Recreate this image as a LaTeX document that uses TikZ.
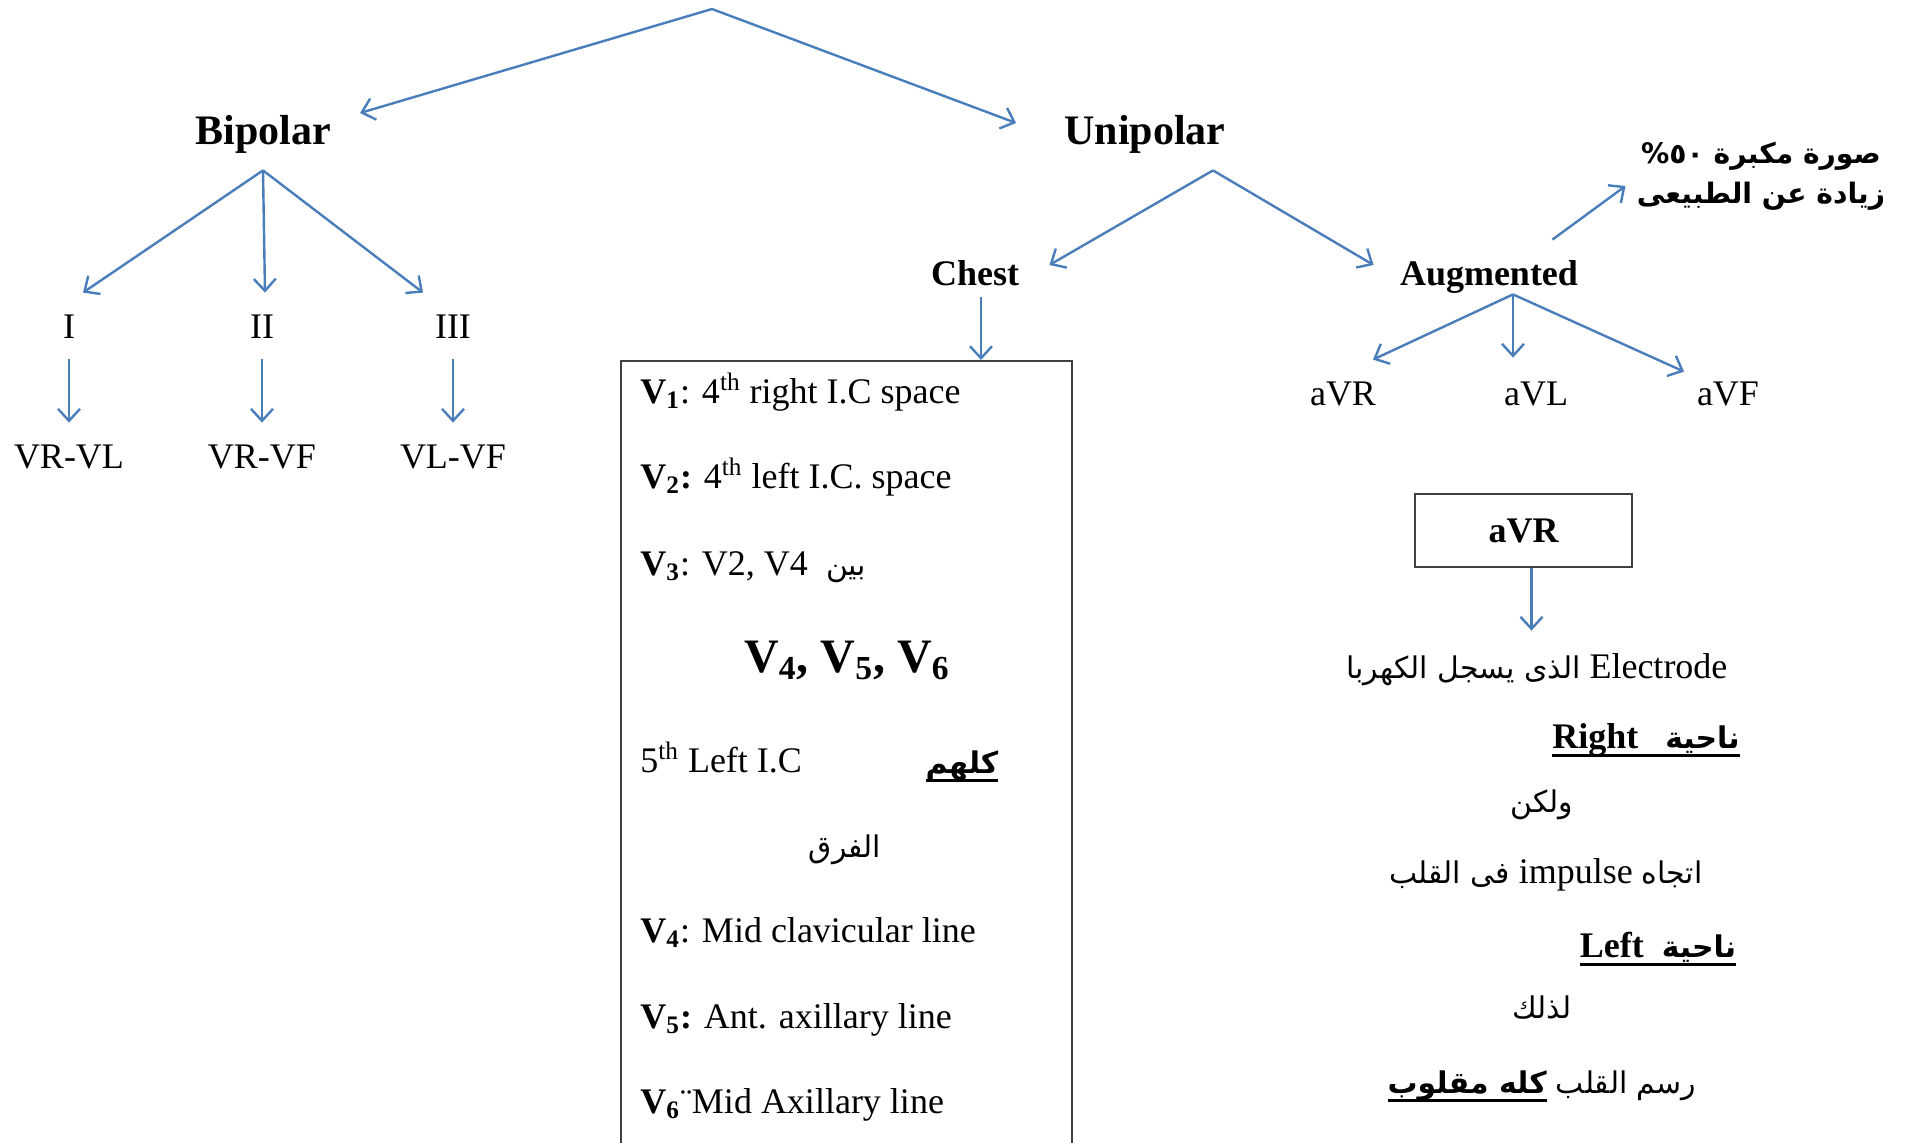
\documentclass[tikz,border=0pt]{standalone}
\usepackage{fontspec}
\setmainfont{Liberation Serif}
\newfontfamily\arabicfont[Script=Arabic,Scale=0.83]{DejaVu Sans}
\TeXXeTstate=1
\usetikzlibrary{arrows.meta}
\definecolor{leadblue}{RGB}{74,126,187}
\definecolor{boxgray}{RGB}{64,64,64}
\newcommand{\leadsize}{\fontsize{18}{22}\selectfont}
\newcommand{\thickul}[1]{\hbox{\setbox0=\hbox{#1}\rlap{\copy0}\rule[-4.5pt]{\wd0}{1.5pt}}}

\begin{document}
\begin{tikzpicture}[x=0.5pt, y=-0.5pt,
    >={Straight Barb[length=6pt,width=11pt]},
    linkarrow/.style={->, draw=leadblue, line width=1.2pt},
    groupname/.style={inner xsep=0pt, inner ysep=12pt, text height=15pt, text depth=1pt, font=\fontsize{21}{25}\selectfont\bfseries},
    leadname/.style={inner xsep=0pt, inner ysep=9.5pt, text height=13pt, text depth=1pt, font=\leadsize},
    boxtext/.style={anchor=base west, inner sep=0pt, font=\leadsize},
    avrtext/.style={anchor=base, inner sep=0pt, font=\leadsize}]

    % Page frame
    \useasboundingbox (0,0) rectangle (1908,1142);

    % Top split
    \coordinate (top) at (712,9);
    \node[groupname] (bip) at (263,130) {Bipolar};
    \node[groupname] (uni) at (1145,130) {Unipolar};
    \draw[linkarrow] (top) -- ([shift={(29,-17)}]bip.east);
    \draw[linkarrow] (top) -- ([shift={(-48,-7)}]uni.west);

    % Bipolar leads
    \node[leadname] (l1) at (69,326) {I};
    \node[leadname] (l2) at (262,326) {II};
    \node[leadname] (l3) at (453,326) {III};
    \node[leadname] (d1) at (69,456) {VR-VL};
    \node[leadname] (d2) at (262,456) {VR-VF};
    \node[leadname] (d3) at (453,456) {VL-VF};
    \draw[linkarrow] (bip.south) -- ([shift={(14,0)}]l1.north);
    \draw[linkarrow] (bip.south) -- ([shift={(3,0)}]l2.north);
    \draw[linkarrow] (bip.south) -- ([shift={(-30,0)}]l3.north);
    \draw[linkarrow] (l1.south) -- (d1.north);
    \draw[linkarrow] (l2.south) -- (d2.north);
    \draw[linkarrow] (l3.south) -- (d3.north);

    % Unipolar leads
    \node[leadname, font=\leadsize\bfseries] (chest) at (975,273) {Chest};
    \node[leadname, font=\leadsize\bfseries] (aug) at (1489,273) {Augmented};
    \draw[linkarrow] ([shift={(68,0)}]uni.south) -- ([shift={(30,-8)}]chest.east);
    \draw[linkarrow] ([shift={(68,0)}]uni.south) -- ([shift={(-26,-8)}]aug.west);

    % Augmented leads
    \node[leadname] (avr) at (1343,393) {aVR};
    \node[leadname] (avl) at (1536,393) {aVL};
    \node[leadname] (avf) at (1728,393) {aVF};
    \draw[linkarrow] ([shift={(24,-12)}]aug.south) -- ([shift={(30,0)}]avr.north);
    \draw[linkarrow] ([shift={(24,-12)}]aug.south) -- ([shift={(-23,-2)}]avl.north);
    \draw[linkarrow] ([shift={(24,-12)}]aug.south) -- ([shift={(-44,12)}]avf.north);

    % Note on the augmented leads
    \node[inner sep=0pt, align=center, font=\arabicfont\bfseries\fontsize{17}{20}\selectfont] (note) at (1761,176)
        {\beginR صورة مكبرة \beginL٥٠\endL\%\endR\\\beginR زيادة عن الطبيعى\endR};
    \draw[linkarrow] ([shift={(-26,0)}]aug.north east) -- ([shift={(-11,10)}]note.west);

    % Chest leads box
    \node[draw=boxgray, line width=0.8pt, inner sep=0pt, anchor=north west,
        minimum width=225.5pt, minimum height=420pt] (chestbox) at (620,360) {};
    \draw[linkarrow] ([shift={(6,-9)}]chest.south) -- ([shift={(6,0)}]chest.south |- chestbox.north);
    \node[boxtext] (v1) at (640,403) {\textbf{V}\textsubscript{\textbf{1}}: 4\textsuperscript{th} right I.C space};
    \node[boxtext] (v2) at (640,488) {\textbf{V\textsubscript{2}:} 4\textsuperscript{th} left I.C. space};
    \node[boxtext] (v3) at (640,575) {\textbf{V}\textsubscript{\textbf{3}}: V2, V4\ \ {\arabicfont\beginR بين\endR}};
    \node[anchor=base, inner sep=0pt, font=\fontsize{24}{28}\selectfont\bfseries] (vall) at (847,672)
        {V\textsubscript{4}, V\textsubscript{5}, V\textsubscript{6}};
    \node[boxtext] (fifth) at (640,772) {5\textsuperscript{th} Left I.C};
    \node[avrtext, font=\leadsize\bfseries] (kull) at (962,773) {\thickul{\arabicfont\beginR كلهم\endR}};
    \node[avrtext] (farq) at (845,857) {\arabicfont\beginR الفرق\endR};
    \node[boxtext] (v4) at (640,942) {\textbf{V}\textsubscript{\textbf{4}}: Mid clavicular line};
    \node[boxtext] (v5) at (640,1028) {\textbf{V\textsubscript{5}:} Ant. axillary line};
    \node[boxtext] (v6) at (640,1113) {\textbf{V}\textsubscript{\textbf{6}}¨Mid Axillary line};

    % aVR explanation
    \node[draw=boxgray, line width=0.8pt, inner sep=0pt, minimum width=108.5pt, minimum height=36.5pt,
        font=\leadsize\bfseries] (avrbox) at (1523.5,530.5) {aVR};
    \node[avrtext] (elec) at (1537,678) {\beginR\beginL Electrode\endL\ {\arabicfont الذى يسجل الكهربا}\endR};
    \draw[linkarrow] ([xshift=4pt]avrbox.south) -- ([xshift=4pt,yshift=11pt]avrbox.south |- elec.north);
    \node[avrtext, font=\leadsize\bfseries] (right) at (1646,748) {\thickul{\beginR{\arabicfont ناحية}\ \ \ \beginL Right\endL\endR}};
    \node[avrtext] (walakin) at (1542,812) {\arabicfont\beginR ولكن\endR};
    \node[avrtext] (impulse) at (1546,883) {\beginR{\arabicfont اتجاه} \beginL impulse\endL{} {\arabicfont فى القلب}\endR};
    \node[avrtext, font=\leadsize\bfseries] (left) at (1658,957) {\thickul{\beginR{\arabicfont ناحية}\ \ \beginL Left\endL\endR}};
    \node[avrtext] (lidhalik) at (1542,1018) {\arabicfont\beginR لذلك\endR};
    \node[avrtext] (rasm) at (1542,1093) {\beginR{\arabicfont رسم القلب} {\bfseries\thickul{\arabicfont\beginR كله مقلوب\endR}}\endR};
\end{tikzpicture}
\end{document}
